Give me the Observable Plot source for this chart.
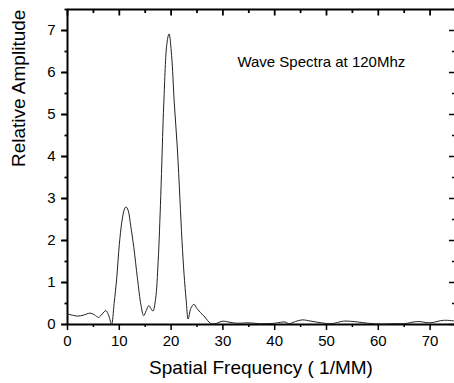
<!DOCTYPE html>
<html><head><meta charset="utf-8">
<script src="https://cdn.jsdelivr.net/npm/d3@7"></script>
<script src="https://cdn.jsdelivr.net/npm/@observablehq/plot@0.6"></script>
<style>body{margin:0;background:#fff}</style>
</head><body><div id="chart"></div>
<script>
const freq = [0,1,2,3,4.4,5.2,6,6.7,7.4,8,8.5,9,9.5,10,10.5,11,11.3,11.7,12.2,12.8,13.5,14.2,14.7,15.2,15.7,16.1,16.5,17,17.5,18,18.6,19.2,19.6,20.1,20.6,21.2,21.7,22.1,22.5,22.9,23.3,23.8,24.4,25,25.7,26.5,27.6,28.5,30,31,32.7,35,37,40,42,42.7,44,45.3,47,49,51,53.3,56,58,60.6,63,65,67.6,70,72.6,75];
const amp = [0.25,0.22,0.2,0.22,0.27,0.23,0.17,0.25,0.33,0.2,0.0,0.5,1.1,1.9,2.45,2.75,2.8,2.72,2.35,1.84,1.1,0.45,0.21,0.33,0.45,0.38,0.32,0.6,1.5,3.05,5.3,6.7,6.92,6.4,5.3,4.2,3.0,2.0,1.2,0.6,0.13,0.38,0.48,0.38,0.28,0.18,0.03,0.02,0.08,0.06,0.03,0.04,0.02,0.03,0.06,0.02,0.07,0.11,0.08,0.04,0.02,0.08,0.06,0.03,0.01,0.02,0.02,0.07,0.04,0.1,0.08];
const xMajor = [0,10,20,30,40,50,60,70];
const xMinor = [5,15,25,35,45,55,65,75];
const yMajor = [0,1,2,3,4,5,6,7];
const yMinor = [0.5,1.5,2.5,3.5,4.5,5.5,6.5,7.5];
const xTitle = "Spatial Frequency ( 1/MM)";
const yTitle = "Relative Amplitude";
const note = "Wave Spectra at 120Mhz";
const noteX = 32.8, noteY = 6.24;

const W = 454, H = 383, ML = 67, MT = 9, MB = 59, MR = 0;
const xDom = [0, 75], yDom = [0, 7.5];
const xRange = [ML, W + 1.5];
const pxX = (xRange[1] - xRange[0]) / (xDom[1] - xDom[0]);
const pxY = (H - MB - MT) / (yDom[1] - yDom[0]);
const data = freq.map((f, i) => ({f, a: amp[i]}));
const none = () => "";
const tk = {label: null, stroke: "#000", strokeWidth: 1.5};
const lk = {stroke: "#000", strokeWidth: 1.8, strokeOpacity: 1};
const plot = Plot.plot({
  width: W, height: H,
  marginLeft: ML, marginTop: MT, marginBottom: MB, marginRight: MR,
  style: {fontFamily: "'Liberation Sans', Arial, sans-serif", fontSize: "15px", background: "#fff", color: "#000", overflow: "visible"},
  x: {domain: xDom, range: xRange},
  y: {domain: yDom},
  marks: [
    Plot.ruleX([0], {strokeWidth: 2, stroke: "#000"}),
    Plot.ruleY([0], {strokeWidth: 2, stroke: "#000"}),
    Plot.ruleY([7.5], {strokeWidth: 2, stroke: "#000"}),
    Plot.axisX(xMajor, {...tk, anchor: "bottom", tickSize: 6, tickPadding: 5, fontSize: 15}),
    Plot.axisX(xMinor, {...tk, anchor: "bottom", tickSize: 3, tickFormat: none}),
    Plot.axisY(yMajor, {...tk, anchor: "left", tickSize: 6, tickPadding: 6, fontSize: 15}),
    Plot.axisY(yMajor, {...tk, anchor: "right", tickSize: 6, dx: -6, tickFormat: none}),
    Plot.axisY(yMinor, {...tk, anchor: "right", tickSize: 3, dx: -3, tickFormat: none}),
    // left outward ticks and top inward ticks as links in data space
    Plot.link(yMajor, {...lk, y1: d => d, y2: d => d, x1: xDom[0] - 6 / pxX, x2: xDom[0]}),
    Plot.link(yMinor, {...lk, y1: d => d, y2: d => d, x1: xDom[0] - 3 / pxX, x2: xDom[0]}),
    Plot.link(xMajor, {...lk, x1: d => d, x2: d => d, y1: yDom[1], y2: yDom[1] - 6 / pxY}),
    Plot.link(xMinor, {...lk, x1: d => d, x2: d => d, y1: yDom[1], y2: yDom[1] - 3.5 / pxY}),
    Plot.line(data, {x: "f", y: "a", curve: "catmull-rom", stroke: "#222", strokeWidth: 1}),
    Plot.text([note], {x: noteX, y: noteY, textAnchor: "start", fontSize: 15}),
    Plot.text([xTitle], {frameAnchor: "bottom", dy: 49, fontSize: 19}),
    Plot.text([yTitle], {frameAnchor: "left", dx: -49, rotate: -90, fontSize: 19})
  ]
});
document.getElementById("chart").append(plot);
</script>
</body></html>
